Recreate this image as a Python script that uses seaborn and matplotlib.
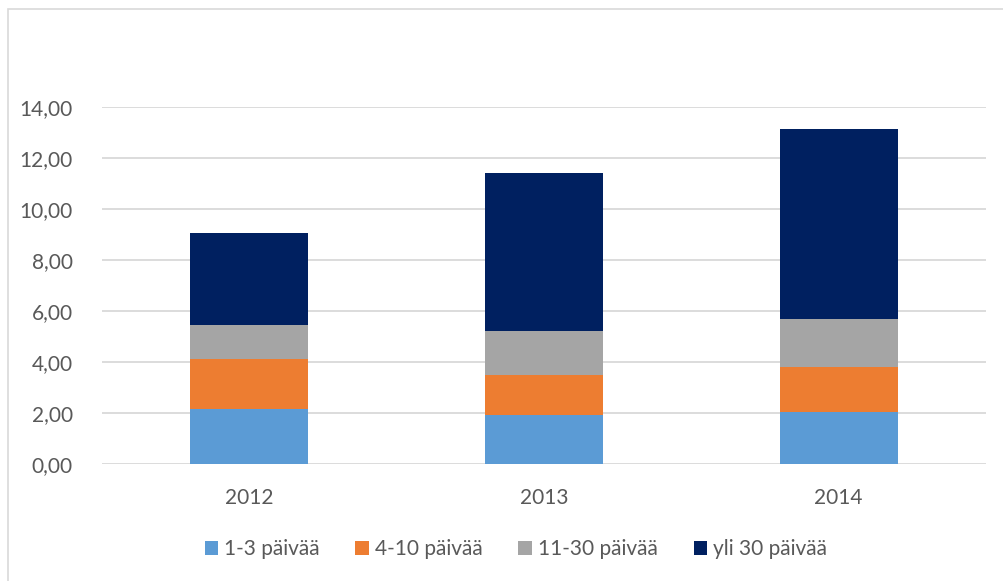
import numpy as np
import pandas as pd
import matplotlib.pyplot as plt
import seaborn as sns
from matplotlib.patches import Rectangle, Patch

# ── data ──────────────────────────────────────────────────────────────────
years = ['2012', '2013', '2014']
series = ['1-3 päivää', '4-10 päivää', '11-30 päivää', 'yli 30 päivää']
d_1_3 = [2.16, 1.91, 2.02]
d_4_10 = [1.94, 1.59, 1.80]
d_11_30 = [1.35, 1.70, 1.85]
d_over30 = [3.60, 6.22, 7.48]
colors = ['#5b9bd5', '#ed7d31', '#a5a5a5', '#002060']
y_ticks = [0, 2, 4, 6, 8, 10, 12, 14]

sns.set_style('white')
plt.rcParams['font.family'] = ['Lato', 'DejaVu Sans']
text_col = '#595959'
grid_col = '#d9d9d9'

fig = plt.figure(figsize=(10.04, 5.81), dpi=100)
ax = fig.add_axes([102 / 1004, 1 - 464 / 581, 884 / 1004, 357 / 581])

# stacked bars: draw cumulative totals, tallest first
values = np.array([d_1_3, d_4_10, d_11_30, d_over30])
cum = values.cumsum(axis=0)
for i in range(len(series) - 1, -1, -1):
    df = pd.DataFrame({'year': years, 'value': cum[i]})
    sns.barplot(data=df, x='year', y='value', color=colors[i], width=0.4,
                saturation=1, linewidth=0, ax=ax, zorder=3)

ax.set_xlim(-0.5, 2.5)
ax.set_ylim(0, 14)
ax.set_yticks(y_ticks)
ax.set_yticklabels([f'{v:.2f}'.replace('.', ',') for v in y_ticks])
ax.set_xlabel('')
ax.set_ylabel('')
ax.yaxis.grid(True, color=grid_col, linewidth=1.3, zorder=0)
ax.set_axisbelow(True)
for s in ax.spines.values():
    s.set_visible(False)
ax.tick_params(axis='both', length=0, labelsize=15, labelcolor=text_col)
ax.tick_params(axis='y', pad=21)
ax.tick_params(axis='x', pad=17)

handles = [Patch(facecolor=c, edgecolor='none') for c in colors]
fig.legend(handles, series, loc='center', bbox_to_anchor=(516 / 1004, 1 - 549 / 581),
           ncol=4, frameon=False, fontsize=15, labelcolor=text_col,
           handlelength=0.65, handleheight=0.65, handletextpad=0.3,
           columnspacing=1.7)

# chart frame
fig.patches.append(Rectangle((8 / 1004, -0.1), 1.2, 1 - 9 / 581 + 0.1,
                             transform=fig.transFigure, fill=False,
                             edgecolor=grid_col, linewidth=1.2))

fig.savefig('out.png', dpi=100)
